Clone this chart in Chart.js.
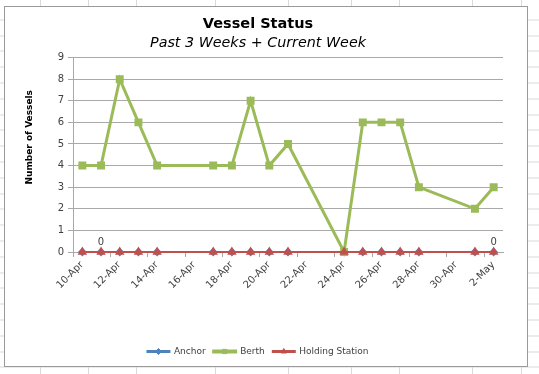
<!DOCTYPE html>
<html>
<head>
<meta charset="utf-8">
<script src="https://cdn.jsdelivr.net/npm/chart.js@4/dist/chart.umd.min.js"></script>
<style>
  html, body { margin: 0; padding: 0; }
  body {
    width: 539px; height: 374px; position: relative; overflow: hidden; background: #fff;
    background-image: repeating-linear-gradient(to bottom, transparent 0, transparent 14.8px, #d9d9d9 14.8px, #d9d9d9 15.8px);
    background-position: 0 4.5px;
  }
  .col { position: absolute; top: 0; width: 1px; height: 374px; background: #d9d9d9; }
  #box {
    position: absolute; left: 4px; top: 6px; width: 522px; height: 359px;
    border: 1px solid #9a9a9a; background: #fff;
  }
</style>
</head>
<body>
<div class="col" style="left:40px"></div>
<div class="col" style="left:88px"></div>
<div class="col" style="left:136px"></div>
<div class="col" style="left:215px"></div>
<div class="col" style="left:288px"></div>
<div class="col" style="left:351px"></div>
<div class="col" style="left:399px"></div>
<div class="col" style="left:472px"></div>
<div class="col" style="left:521px"></div>
<div id="box"><canvas id="vesselChart"></canvas></div>
<script>
// values
const dates = ['10-Apr', '11-Apr', '12-Apr', '13-Apr', '14-Apr', '17-Apr', '18-Apr', '19-Apr', '20-Apr',
               '21-Apr', '24-Apr', '25-Apr', '26-Apr', '27-Apr', '28-Apr', '1-May', '2-May'];
const anchor = [0, 0, 0, 0, 0, 0, 0, 0, 0, 0, 0, 0, 0, 0, 0, 0, 0];
const berth = [4, 4, 8, 6, 4, 4, 4, 7, 4, 5, 0, 6, 6, 6, 3, 2, 3];
const holding = [0, 0, 0, 0, 0, 0, 0, 0, 0, 0, 0, 0, 0, 0, 0, 0, 0];
const anchorLabels = [null, '0', null, null, null, null, null, null, null, null, null, null, null, null, null, null, '0'];
const tickLabels = ['10-Apr', '12-Apr', '14-Apr', '16-Apr', '18-Apr', '20-Apr', '22-Apr', '24-Apr',
                    '26-Apr', '28-Apr', '30-Apr', '2-May'];
const yMax = 9;
const yTitle = 'Number of Vessels';

const monthOffset = { Apr: 0, May: 30 };
function dayOf(label) {
    const parts = label.split('-');
    return Number(parts[0]) + monthOffset[parts[1]];
}
function points(values) {
    return dates.map((d, i) => ({ x: dayOf(d), y: values[i] }));
}

const textColor = '#404040';
const gridColor = '#a9a9a9';
const font = 'DejaVu Sans';

// y title sits a bit above the middle of the plot, as in Excel
const yTitlePlugin = {
    id: 'yTitle',
    afterDraw(chart) {
        const ctx = chart.ctx;
        const area = chart.chartArea;
        ctx.save();
        ctx.translate(25, area.top + (area.bottom - area.top) * 0.41);
        ctx.rotate(-Math.PI / 2);
        ctx.font = 'bold 9px "' + font + '"';
        ctx.fillStyle = '#000';
        ctx.textAlign = 'center';
        ctx.textBaseline = 'middle';
        ctx.fillText(yTitle, 0, 0);
        ctx.restore();
    }
};

// "0" data labels on the Anchor series
const pointLabelPlugin = {
    id: 'pointLabels',
    afterDatasetsDraw(chart) {
        const ctx = chart.ctx;
        const meta = chart.getDatasetMeta(0);
        ctx.save();
        ctx.font = '10px "' + font + '"';
        ctx.fillStyle = textColor;
        ctx.textAlign = 'center';
        ctx.textBaseline = 'bottom';
        anchorLabels.forEach((txt, i) => {
            if (txt === null) return;
            const el = meta.data[i];
            ctx.fillText(txt, el.x, el.y - 5);
        });
        ctx.restore();
    }
};

// markers in the middle of the legend lines
const legendMarkerPlugin = {
    id: 'legendMarkers',
    afterDraw(chart) {
        const legend = chart.legend;
        const ctx = chart.ctx;
        legend.legendItems.forEach((item, i) => {
            const box = legend.legendHitBoxes[i];
            const ds = chart.data.datasets[item.datasetIndex];
            const bw = legend.options.labels.boxWidth;
            ctx.save();
            ctx.fillStyle = ds.borderColor;
            ctx.strokeStyle = ds.borderColor;
            ctx.lineWidth = 1;
            Chart.helpers.drawPoint(ctx, { pointStyle: ds.pointStyle, radius: 3, borderWidth: 1 },
                box.left + bw / 2, box.top + box.height / 2);
            ctx.restore();
        });
    }
};

const ctx = document.getElementById('vesselChart').getContext('2d');
new Chart(ctx, {
    type: 'line',
    data: {
        datasets: [
            {
                label: 'Anchor',
                data: points(anchor),
                borderColor: '#4f81bd',
                backgroundColor: '#4f81bd',
                borderWidth: 2,
                pointStyle: 'rectRot',
                pointRadius: 3,
                order: 3,
                clip: 6,
            },
            {
                label: 'Berth',
                data: points(berth),
                borderColor: '#9bbb59',
                backgroundColor: '#9bbb59',
                borderWidth: 3,
                pointStyle: 'rect',
                pointRadius: 3.5,
                order: 2,
                clip: 6,
            },
            {
                label: 'Holding Station',
                data: points(holding),
                borderColor: '#c0504d',
                backgroundColor: '#c0504d',
                borderWidth: 2,
                pointStyle: 'triangle',
                pointRadius: 3.5,
                order: 1,
                clip: 6,
            },
        ],
    },
    options: {
        responsive: true,
        maintainAspectRatio: false,
        animation: false,
        layout: { padding: { left: 8, right: 24, top: 0, bottom: 0 } },
        plugins: {
            tooltip: { enabled: false },
            title: {
                display: true,
                text: 'Vessel Status',
                color: '#000',
                font: { family: font, size: 14.5, weight: 'bold' },
                padding: { top: 9, bottom: 1 },
            },
            subtitle: {
                display: true,
                text: 'Past 3 Weeks + Current Week',
                color: '#000',
                font: { family: font, size: 14.3, style: 'italic' },
                padding: { top: 0, bottom: 6 },
            },
            legend: {
                position: 'bottom',
                labels: {
                    color: textColor,
                    font: { family: font, size: 9 },
                    boxWidth: 22,
                    boxHeight: 1,
                    padding: 8,
                    sort: (a, b) => a.datasetIndex - b.datasetIndex,
                },
            },
        },
        scales: {
            x: {
                type: 'linear',
                min: dayOf(tickLabels[0]) - 0.5,
                max: dayOf(tickLabels[tickLabels.length - 1]) + 0.5,
                afterBuildTicks: (scale) => {
                    scale.ticks = tickLabels.map(l => ({ value: dayOf(l) - 0.5 }));
                },
                afterFit: (scale) => { scale.height = 87; },
                ticks: {
                    autoSkip: false,
                    maxRotation: 45,
                    minRotation: 45,
                    labelOffset: 9,
                    padding: 2,
                    color: textColor,
                    font: { family: font, size: 10 },
                    callback: (value, index) => tickLabels[index],
                },
                grid: { drawOnChartArea: false, tickLength: 5, color: gridColor },
                border: { color: gridColor },
            },
            y: {
                min: 0,
                max: yMax,
                afterFit: (scale) => { scale.width = 60; },
                ticks: {
                    stepSize: 1,
                    padding: 4,
                    color: textColor,
                    font: { family: font, size: 10 },
                },
                grid: { color: gridColor, tickLength: 5 },
                border: { color: gridColor },
            },
        },
    },
    plugins: [yTitlePlugin, pointLabelPlugin, legendMarkerPlugin],
});
</script>
</body>
</html>
